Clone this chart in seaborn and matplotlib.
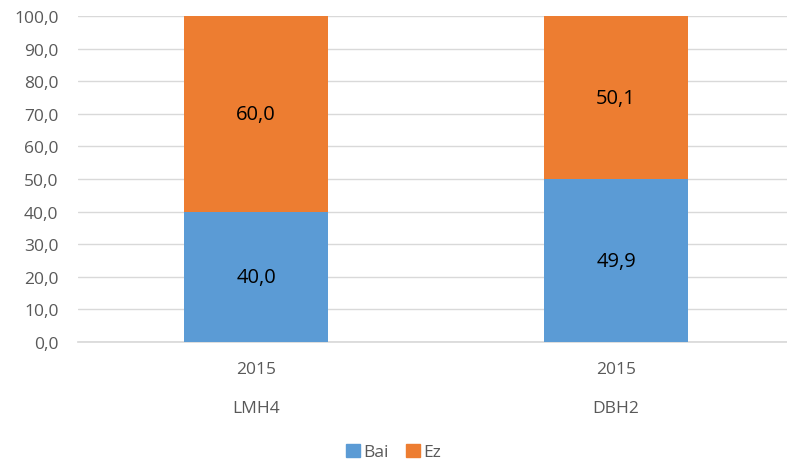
import pandas as pd
import seaborn as sns
import matplotlib.pyplot as plt
from matplotlib.patches import Patch

sns.set_theme(style="white")
plt.rcParams['font.family'] = ['Open Sans', 'DejaVu Sans']

# Data
groups = ['LMH4', 'DBH2']
years = ['2015', '2015']
bai = [40.0, 49.9]
ez = [60.0, 50.1]

df = pd.DataFrame({'group': groups, 'year': years, 'Bai': bai, 'Ez': ez})

blue = '#5B9BD5'
orange = '#ED7D31'
grey = '#595959'

fig = plt.figure(figsize=(7.87, 4.64), dpi=100)
ax = fig.add_axes([0.099, 0.261, 0.901, 0.702])

sns.barplot(data=df, x='group', y='Bai', color=blue, width=0.4, ax=ax,
            saturation=1, zorder=3, linewidth=0)
sns.barplot(data=df, x='group', y='Ez', color=orange, width=0.4, ax=ax,
            saturation=1, bottom=df['Bai'], zorder=3, linewidth=0)

# value labels
for i, row in df.iterrows():
    ax.text(i, row.Bai / 2, f'{row.Bai:.1f}'.replace('.', ','),
            ha='center', va='center', fontsize=14.5, color='black', zorder=4)
    ax.text(i, row.Bai + row.Ez / 2, f'{row.Ez:.1f}'.replace('.', ','),
            ha='center', va='center', fontsize=14.5, color='black', zorder=4)

ax.set_ylim(0, 100)
ax.set_xlim(-0.495, 1.475)
ticks = list(range(0, 101, 10))
ax.set_yticks(ticks)
ax.set_yticklabels([f'{t:.1f}'.replace('.', ',') for t in ticks], color=grey, fontsize=12.5)
ax.yaxis.grid(True, color='#D9D9D9', linewidth=1, zorder=0)
ax.tick_params(axis='y', length=0, pad=14)

# two-level category axis
ax.set_xticks(range(len(df)))
ax.set_xticklabels(df['year'], color=grey, fontsize=12.5)
ax.tick_params(axis='x', length=0, pad=14)
for i, g in enumerate(df['group']):
    ax.text(i, -20.2, g, ha='center', va='center', fontsize=12.5, color=grey,
            transform=ax.transData, clip_on=False)
ax.set_xlabel('')
ax.set_ylabel('')

for s in ['top', 'right', 'left']:
    ax.spines[s].set_visible(False)
ax.spines['bottom'].set_color('#D9D9D9')

handles = [Patch(color=blue, label='Bai'), Patch(color=orange, label='Ez')]
fig.legend(handles=handles, loc='center', bbox_to_anchor=(0.5, 0.024), ncol=2,
           frameon=False, fontsize=12.5, handlelength=0.8, handleheight=0.8,
           handletextpad=0.2, columnspacing=1.0, labelcolor=grey)

fig.savefig('out.png', dpi=100)
